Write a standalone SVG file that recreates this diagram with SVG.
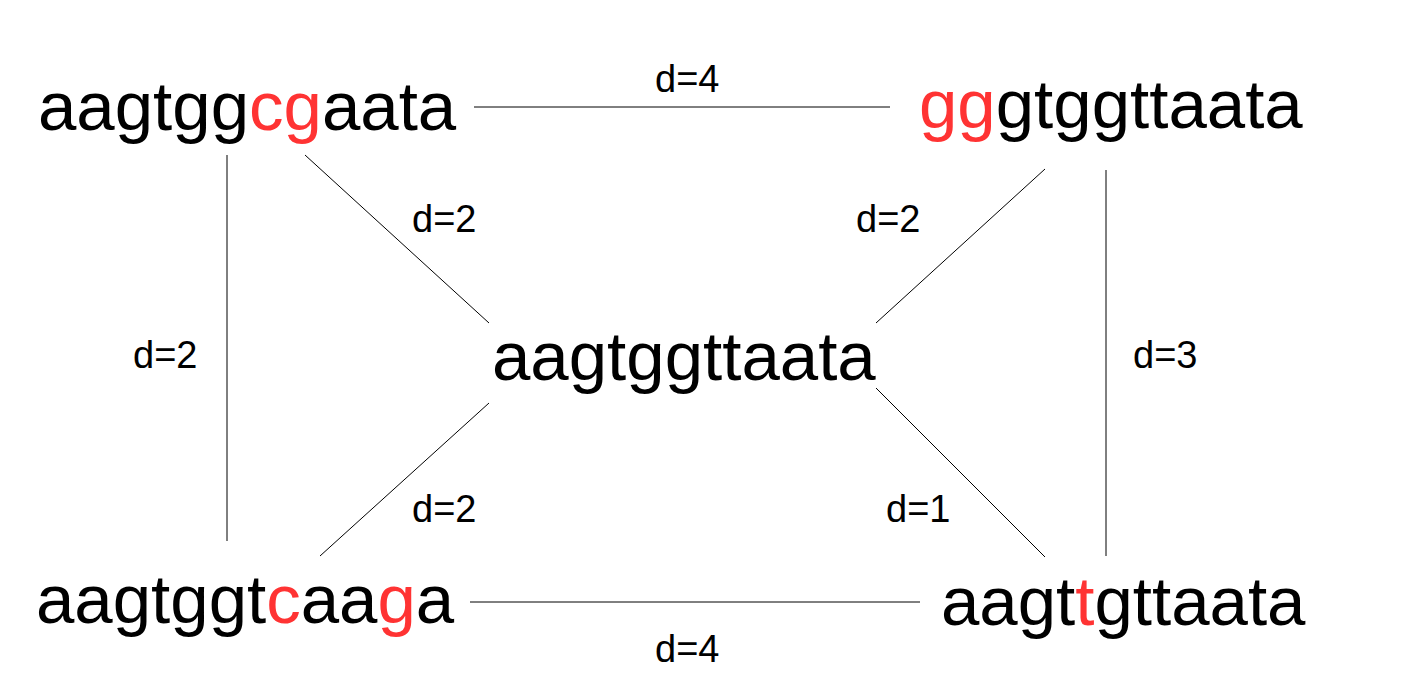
<svg xmlns="http://www.w3.org/2000/svg" width="1415" height="687" viewBox="0 0 1415 687">
<style>
.seq{font-family:"Liberation Sans",Arial,sans-serif;font-size:69px;fill:#000}
.r{fill:#ff3333}
.lbl{font-family:"Liberation Sans",Arial,sans-serif;font-size:38px;fill:#000}
.edge{stroke:#000;stroke-width:1;fill:none}
</style>
<rect width="1415" height="687" fill="#fff"/>
<g id="connectors">
<line class="edge" x1="474" y1="107" x2="890" y2="107"/>
<line class="edge" x1="470" y1="602" x2="920" y2="602"/>
<line class="edge" x1="227" y1="155" x2="227" y2="541"/>
<line class="edge" x1="1106" y1="170" x2="1106" y2="556"/>
<line class="edge" x1="305" y1="155" x2="489" y2="323"/>
<line class="edge" x1="1045" y1="169" x2="876" y2="323"/>
<line class="edge" x1="489" y1="403" x2="320" y2="556"/>
<line class="edge" x1="876" y1="388" x2="1045" y2="557"/>
<text class="lbl" x="655" y="92">d=4</text>
<text class="lbl" x="412" y="232">d=2</text>
<text class="lbl" x="856" y="232">d=2</text>
<text class="lbl" x="133" y="368">d=2</text>
<text class="lbl" x="1133" y="368">d=3</text>
<text class="lbl" x="412" y="522">d=2</text>
<text class="lbl" x="886" y="522">d=1</text>
<text class="lbl" x="655" y="662">d=4</text>
</g>
<g id="node-tl"><text class="seq" x="38" y="130">aagtgg<tspan class="r">cg</tspan>aata</text></g>
<g id="node-tr"><text class="seq" x="919" y="128"><tspan class="r">gg</tspan>gtggttaata</text></g>
<g id="node-center"><text class="seq" x="492" y="380">aagtggttaata</text></g>
<g id="node-bl"><text class="seq" x="36" y="623">aagtggt<tspan class="r">c</tspan>aa<tspan class="r">g</tspan>a</text></g>
<g id="node-br"><text class="seq" x="941" y="625">aagt<tspan class="r">t</tspan>gttaata</text></g>
</svg>
